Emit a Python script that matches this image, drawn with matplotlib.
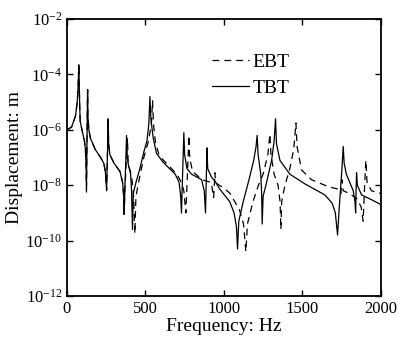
import numpy as np
import matplotlib
matplotlib.use('Agg')
import matplotlib.pyplot as plt

# values: frequency (Hz) and log10 of displacement (m)
tbt_freq = [0, 30, 55, 66, 72, 76, 79, 82, 85, 100, 112, 118, 122, 125, 127, 130, 132, 134, 140,
            150, 180, 215, 235, 245, 250, 253, 256, 260, 263, 266, 274, 300, 338, 355, 362, 365,
            369, 376, 380, 384, 395, 405, 412, 418, 423, 440, 465, 490, 510, 522, 529, 535, 550,
            571, 610, 645, 690, 715, 725, 730, 735, 741, 745, 750, 765, 794, 858, 875, 883, 888,
            892, 897, 920, 943, 975, 1038, 1065, 1080, 1087, 1095, 1123, 1160, 1190, 1205, 1212,
            1218, 1235, 1240, 1244, 1250, 1272, 1304, 1320, 1329, 1335, 1357, 1420, 1516, 1643,
            1690, 1710, 1724, 1735, 1752, 1760, 1766, 1780, 1824, 1835, 1839, 1842, 1845, 1850,
            1877, 1950, 2000]
tbt_logdisp = [-6.0, -5.9, -5.5, -5.0, -4.4, -3.65, -4.4, -5.2, -5.7, -6.1, -6.4, -6.7, -7.2, -8.0,
               -7.0, -5.5, -4.55, -5.5, -6.0, -6.3, -6.7, -7.0, -7.2, -7.5, -7.9, -8.15, -7.5,
               -6.5, -5.6, -6.5, -6.9, -7.2, -7.5, -7.9, -8.4, -9.05, -8.2, -7.0, -6.2, -7.0,
               -7.35, -7.5, -8.2, -9.6, -8.3, -7.9, -7.4, -6.8, -6.4, -5.8, -4.8, -5.6, -6.3,
               -6.85, -7.15, -7.35, -7.6, -7.9, -8.4, -9.0, -8.0, -6.9, -6.1, -6.9, -7.4, -7.6,
               -7.8, -8.2, -9.0, -7.8, -6.65, -7.4, -7.7, -7.85, -8.15, -8.6, -9.0, -9.5, -10.3,
               -9.3, -8.6, -7.8, -7.1, -6.6, -6.2, -6.9, -7.6, -8.2, -9.4, -8.4, -7.9, -7.1,
               -6.4, -5.6, -6.5, -7.1, -7.6, -7.95, -8.35, -8.65, -9.0, -9.8, -8.8, -7.4, -6.6,
               -7.2, -7.6, -8.2, -8.6, -9.0, -8.2, -7.55, -8.0, -8.35, -8.55, -8.7]

ebt_freq = [0, 30, 55, 66, 72, 76, 79, 82, 85, 100, 112, 118, 122, 125, 127, 130, 132, 134, 140,
            150, 180, 215, 235, 245, 250, 253, 256, 260, 263, 266, 274, 300, 338, 355, 362, 365,
            369, 378, 386, 390, 400, 415, 425, 433, 440, 460, 490, 520, 538, 546, 552, 565, 590,
            650, 700, 730, 745, 758, 765, 772, 777, 782, 800, 860, 920, 935, 940, 943, 947, 970,
            1000, 1040, 1070, 1100, 1125, 1140, 1150, 1185, 1220, 1250, 1280, 1293, 1300, 1320,
            1345, 1358, 1363, 1368, 1389, 1420, 1445, 1459, 1466, 1495, 1558, 1664, 1735, 1745,
            1752, 1760, 1800, 1850, 1875, 1887, 1895, 1904, 1912, 1940, 2000]
ebt_logdisp = [-6.0, -5.9, -5.5, -5.0, -4.4, -3.65, -4.4, -5.2, -5.7, -6.1, -6.4, -6.7, -7.2, -8.3,
               -7.0, -5.5, -4.55, -5.5, -6.0, -6.3, -6.7, -7.0, -7.2, -7.5, -7.9, -8.2, -7.5,
               -6.5, -5.7, -6.5, -6.9, -7.2, -7.5, -7.9, -8.4, -9.05, -8.2, -7.2, -6.3, -7.1,
               -7.45, -7.8, -8.4, -9.75, -8.4, -7.8, -7.0, -6.4, -5.8, -4.95, -5.8, -6.5, -6.95,
               -7.3, -7.6, -7.9, -8.2, -9.0, -8.0, -7.0, -6.2, -7.0, -7.5, -7.8, -7.9, -8.45,
               -7.9, -7.55, -7.9, -8.0, -8.1, -8.3, -8.6, -8.9, -9.4, -10.4, -9.4, -8.6, -8.0,
               -7.6, -6.9, -6.15, -6.9, -7.6, -8.0, -8.6, -9.6, -8.6, -8.0, -7.4, -6.7, -5.75,
               -6.6, -7.45, -7.8, -8.05, -8.15, -8.3, -7.8, -8.2, -8.3, -8.5, -8.8, -9.3, -8.2,
               -7.1, -7.9, -8.2, -8.3]

plt.rcParams['font.family'] = 'Liberation Serif'
plt.rcParams['mathtext.fontset'] = 'custom'
plt.rcParams['mathtext.rm'] = 'Liberation Serif'

fig = plt.figure(figsize=(3.98, 3.41), dpi=100)
ax = fig.add_axes([0.168, 0.132, 0.789, 0.812])

ax.semilogy(ebt_freq, 10.0 ** np.array(ebt_logdisp), color='black', lw=0.9,
            dashes=(5.5, 4), label='EBT')
ax.semilogy(tbt_freq, 10.0 ** np.array(tbt_logdisp), color='black', lw=0.9, label='TBT')

ax.set_xlim(0, 2000)
ax.set_ylim(1e-12, 1e-2)
ax.set_xticks([0, 500, 1000, 1500, 2000])
ax.set_yticks([1e-12, 1e-10, 1e-8, 1e-6, 1e-4, 1e-2])
ax.minorticks_off()
ax.tick_params(direction='in', top=True, right=True, labelsize=12, length=4, width=1)
for s in ax.spines.values():
    s.set_linewidth(1.3)

ax.set_xlabel('Frequency: Hz', fontsize=14, labelpad=1)
ax.set_ylabel('Displacement: m', fontsize=14, labelpad=2)

ax.legend(loc='upper left', bbox_to_anchor=(0.405, 0.94), frameon=False, fontsize=14,
          handlelength=1.95, handletextpad=0.15, labelspacing=0.45)

fig.savefig('out.png', dpi=100)
